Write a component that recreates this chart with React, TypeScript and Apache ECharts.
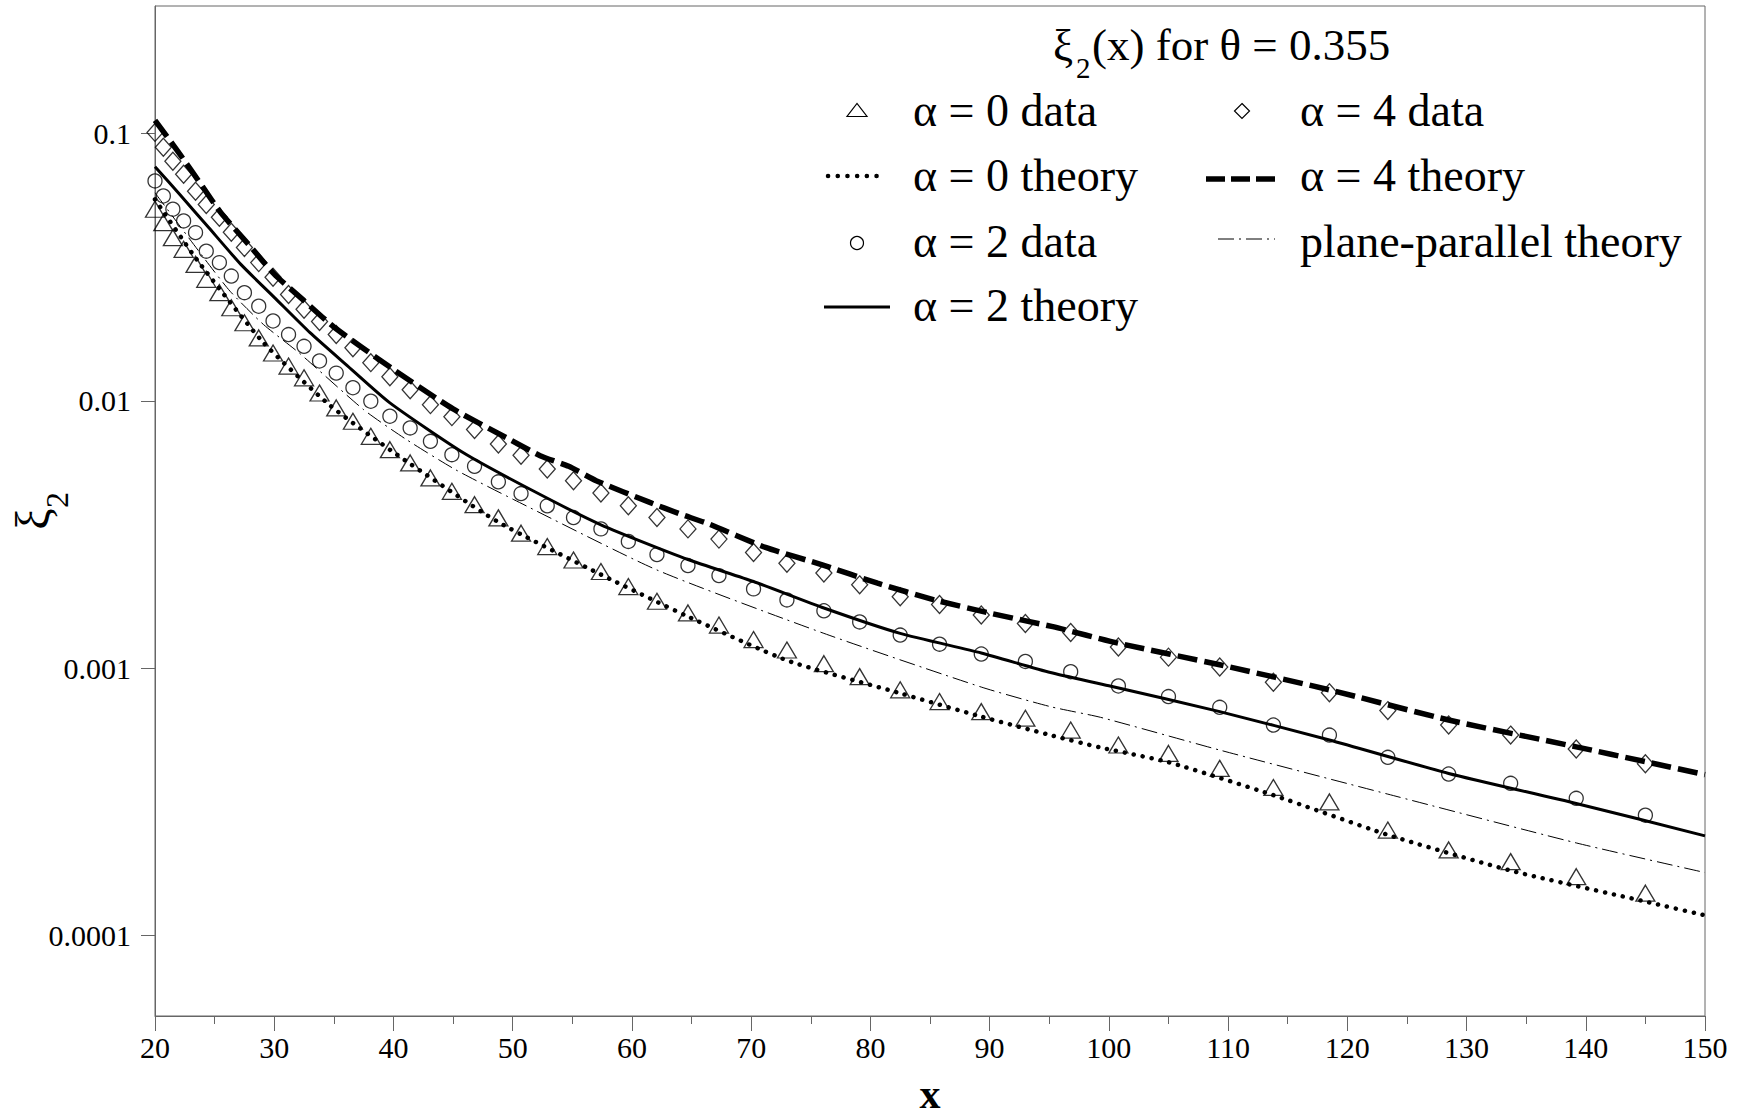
import React, { useEffect, useRef } from 'react';
import * as echarts from 'echarts';

const FONT = '"Liberation Serif", "Times New Roman", serif';

// x positions of the simulation data points
const dataX = [
  20.0, 20.7, 21.5, 22.4, 23.4, 24.3, 25.4, 26.4, 27.5, 28.7,
  29.9, 31.2, 32.5, 33.8, 35.2, 36.6, 38.1, 39.7, 41.4, 43.1,
  44.9, 46.8, 48.8, 50.7, 52.9, 55.1, 57.4, 59.7, 62.1, 64.7,
  67.3, 70.2, 73.0, 76.1, 79.1, 82.5, 85.8, 89.3, 93.0, 96.8,
  100.8, 105.0, 109.3, 113.8, 118.5, 123.4, 128.5, 133.7, 139.2, 145.0,
];

const alpha0Data = [
  0.0521, 0.0464, 0.0408, 0.0369, 0.0324, 0.0285, 0.0254, 0.0223, 0.0196, 0.0172,
  0.0151, 0.0135, 0.0122, 0.0107, 0.00941, 0.00839, 0.00737, 0.00657, 0.00586, 0.00515,
  0.00459, 0.00409, 0.00365, 0.0032, 0.00285, 0.00254, 0.0023, 0.00202, 0.00178, 0.00161,
  0.00145, 0.00128, 0.00117, 0.00104, 0.00093, 0.00083, 0.00075, 0.000688, 0.00065, 0.000587,
  0.000516, 0.00048, 0.000422, 0.000358, 0.000316, 0.000248, 0.000209, 0.000189, 0.000166, 0.000144,
];

const alpha2Data = [
  0.0665, 0.0584, 0.0521, 0.0471, 0.0426, 0.0363, 0.0329, 0.0293, 0.0254, 0.0226,
  0.0199, 0.0177, 0.016, 0.0141, 0.0127, 0.0112, 0.00997, 0.00876, 0.00792, 0.00706,
  0.00629, 0.00569, 0.00498, 0.0045, 0.00405, 0.00366, 0.00332, 0.00298, 0.00266, 0.00242,
  0.00222, 0.00198, 0.0018, 0.00164, 0.00149, 0.00133, 0.00123, 0.00113, 0.00106, 0.00097,
  0.000858, 0.000783, 0.000714, 0.000613, 0.000562, 0.000464, 0.000402, 0.000371, 0.000326, 0.000282,
];

const alpha4Data = [
  0.101, 0.0889, 0.0788, 0.0704, 0.0608, 0.0543, 0.0486, 0.0427, 0.0375, 0.0329,
  0.029, 0.025, 0.022, 0.0198, 0.0177, 0.0158, 0.0139, 0.0123, 0.011, 0.00968,
  0.00873, 0.00781, 0.0069, 0.00626, 0.00556, 0.00503, 0.00452, 0.00405, 0.00366, 0.00332,
  0.00304, 0.00271, 0.00247, 0.00227, 0.00205, 0.00185, 0.00173, 0.00158, 0.00147, 0.00136,
  0.0012, 0.0011, 0.00101, 0.000886, 0.00081, 0.000694, 0.000613, 0.000562, 0.000499, 0.000439,
];

// theory curves
const alpha0TheoryX = [20, 23.5, 29.1, 34.7, 40.3, 48.7, 57.4, 64.7, 73.0, 82.5, 89.3, 95.1, 99.3, 105, 113.8, 123.4, 133.7, 145, 150];
const alpha0TheoryY = [0.0567, 0.0338, 0.0165, 0.0096, 0.00629, 0.00354, 0.00224, 0.00156, 0.00107, 0.000806, 0.000659, 0.000562, 0.000505, 0.000445, 0.000335, 0.000238, 0.000175, 0.000134, 0.000119];

const alpha2TheoryX = [20, 22.1, 24.5, 27.2, 30, 33, 36, 39.7, 45.9, 51.5, 57.4, 64.7, 70.2, 76.1, 82.5, 89.3, 95.1, 100, 109.3, 118.5, 128.5, 139.2, 150];
const alpha2TheoryY = [0.0752, 0.059, 0.0445, 0.0324, 0.0244, 0.018, 0.0137, 0.00983, 0.00638, 0.00466, 0.00344, 0.00255, 0.00211, 0.00168, 0.00135, 0.00114, 0.000963, 0.00086, 0.000688, 0.000539, 0.000404, 0.000312, 0.000236];

const alpha4TheoryX = [20, 21.9, 24, 25.5, 28, 30, 32.5, 35, 40, 45, 49.6, 52.3, 54.7, 57, 61.5, 64, 66.4, 71.2, 75.9, 80.6, 85.4, 90.2, 95.3, 100.8, 109.3, 118.5, 128.5, 139.2, 145, 150];
const alpha4TheoryY = [0.112, 0.086, 0.0632, 0.0507, 0.0378, 0.0298, 0.0237, 0.0189, 0.0131, 0.00933, 0.00723, 0.00624, 0.00569, 0.00503, 0.00417, 0.00378, 0.00347, 0.00283, 0.00244, 0.00208, 0.0018, 0.0016, 0.00143, 0.00124, 0.00103, 0.00083, 0.00064, 0.000508, 0.000447, 0.0004];

const planeTheoryX = [20, 24.2, 26.3, 29.1, 32.1, 37.5, 41.1, 45.2, 50.1, 62.1, 76.1, 89.3, 95.1, 99.3, 109.3, 123.4, 139.2, 150];
const planeTheoryY = [0.06, 0.0338, 0.0257, 0.0193, 0.0151, 0.00927, 0.00716, 0.00553, 0.00427, 0.00233, 0.00135, 0.00085, 0.000718, 0.000655, 0.000494, 0.000338, 0.000222, 0.000172];

const yTicks = [0.0001, 0.001, 0.01, 0.1];
const yTickLabels = ['0.0001', '0.001', '0.01', '0.1'];

const titleParts = ['ξ', '2', '(x) for θ = 0.355'];
const legendLeft = ['α = 0 data', 'α = 0 theory', 'α = 2 data', 'α = 2 theory'];
const legendRight = ['α = 4 data', 'α = 4 theory', 'plane-parallel theory'];

const pairs = (xs: number[], ys: number[]) => xs.map((x, i) => [x, ys[i]]);

const AXIS_COLOR = '#666666';

export default function App() {
  const ref = useRef<HTMLDivElement>(null);
  useEffect(() => {
    document.body.style.margin = '0';
    const chart = echarts.init(ref.current!, null, { renderer: 'svg' });

    const rowY = [110, 175, 241, 305];
    const leftMarkX = 857;
    const leftTextX = 913;
    const rightMarkX = 1242;
    const rightTextX = 1300;
    const LFS = 46;

    const textEl = (text: string, x: number, y: number, size: number) => ({
      type: 'text',
      x,
      y,
      silent: true,
      style: {
        text,
        fontSize: size,
        fontFamily: FONT,
        fill: '#000',
        align: 'left',
        verticalAlign: 'middle',
      },
    });

    const graphic: any[] = [
      // title
      textEl(titleParts[0], 1053, 45, 45),
      textEl(titleParts[1], 1076, 68, 29),
      textEl(titleParts[2], 1092, 45, 45),
      // left legend column
      {
        type: 'polygon',
        silent: true,
        shape: { points: [[leftMarkX - 10, rowY[0] + 6.5], [leftMarkX + 10, rowY[0] + 6.5], [leftMarkX, rowY[0] - 6.5]] },
        style: { fill: 'none', stroke: '#000', lineWidth: 1.2 },
      },
      textEl(legendLeft[0], leftTextX, rowY[0], LFS),
      {
        type: 'line',
        silent: true,
        shape: { x1: 828, y1: rowY[1] + 1, x2: 886, y2: rowY[1] + 1 },
        style: { stroke: '#000', lineWidth: 4.5, lineDash: [0.1, 9.6], lineCap: 'round' },
      },
      textEl(legendLeft[1], leftTextX, rowY[1], LFS),
      {
        type: 'circle',
        silent: true,
        shape: { cx: leftMarkX, cy: rowY[2] + 2, r: 6.5 },
        style: { fill: 'none', stroke: '#000', lineWidth: 1.2 },
      },
      textEl(legendLeft[2], leftTextX, rowY[2], LFS),
      {
        type: 'line',
        silent: true,
        shape: { x1: 824, y1: rowY[3] + 2, x2: 890, y2: rowY[3] + 2 },
        style: { stroke: '#000', lineWidth: 3 },
      },
      textEl(legendLeft[3], leftTextX, rowY[3], LFS),
      // right legend column
      {
        type: 'polygon',
        silent: true,
        shape: { points: [[rightMarkX, rowY[0] - 6.5], [rightMarkX + 7.5, rowY[0] + 1], [rightMarkX, rowY[0] + 8.5], [rightMarkX - 7.5, rowY[0] + 1]] },
        style: { fill: 'none', stroke: '#000', lineWidth: 1.2 },
      },
      textEl(legendRight[0], rightTextX, rowY[0], LFS),
      {
        type: 'line',
        silent: true,
        shape: { x1: 1206, y1: rowY[1] + 4, x2: 1275, y2: rowY[1] + 4 },
        style: { stroke: '#000', lineWidth: 5.5, lineDash: [19, 6] },
      },
      textEl(legendRight[1], rightTextX, rowY[1], LFS),
      {
        type: 'line',
        silent: true,
        shape: { x1: 1218, y1: rowY[2] - 2, x2: 1275, y2: rowY[2] - 2 },
        style: { stroke: '#000', lineWidth: 1, lineDash: [16, 5, 2, 5] },
      },
      textEl(legendRight[2], rightTextX, rowY[2], LFS),
      // y axis name (rotated)
      {
        type: 'text',
        x: 32,
        y: 519,
        rotation: Math.PI / 2,
        silent: true,
        style: { text: 'ξ', fontSize: 48, fontFamily: FONT, fill: '#000', align: 'center', verticalAlign: 'middle' },
      },
      {
        type: 'text',
        x: 57,
        y: 500,
        rotation: Math.PI / 2,
        silent: true,
        style: { text: '2', fontSize: 32, fontFamily: FONT, fill: '#000', align: 'center', verticalAlign: 'middle' },
      },
    ];

    const option: any = {
      animation: false,
      backgroundColor: '#fff',
      grid: {
        left: 155,
        top: 6,
        width: 1550,
        height: 1010,
        containLabel: false,
        outerBoundsMode: 'none',
        show: true,
        borderColor: AXIS_COLOR,
        borderWidth: 1,
        backgroundColor: 'transparent',
      },
      xAxis: {
        type: 'value',
        min: 20,
        max: 150,
        interval: 10,
        name: 'x',
        nameLocation: 'middle',
        nameGap: 57,
        nameTextStyle: { fontFamily: FONT, fontSize: 42, lineHeight: 42, fontWeight: 'bold', color: '#000' },
        axisLine: { show: true, lineStyle: { color: AXIS_COLOR, width: 1 } },
        axisTick: { show: true, inside: false, length: 15, lineStyle: { color: AXIS_COLOR, width: 1 } },
        minorTick: { show: true, splitNumber: 2, length: 8, lineStyle: { color: AXIS_COLOR, width: 1 } },
        axisLabel: { margin: 16, fontFamily: FONT, fontSize: 30, color: '#000' },
        splitLine: { show: false },
        minorSplitLine: { show: false },
      },
      yAxis: {
        type: 'log',
        logBase: 10,
        min: 0.00005,
        max: 0.3,
        axisLine: { show: true, lineStyle: { color: AXIS_COLOR, width: 1 } },
        axisTick: { show: true, inside: false, length: 14, customValues: yTicks, lineStyle: { color: AXIS_COLOR, width: 1 } },
        minorTick: { show: false },
        axisLabel: {
          customValues: yTicks,
          margin: 24,
          fontFamily: FONT,
          fontSize: 30,
          color: '#000',
          formatter: (v: number) => {
            let best = 0;
            for (let i = 1; i < yTicks.length; i++) {
              if (Math.abs(Math.log10(v) - Math.log10(yTicks[i])) < Math.abs(Math.log10(v) - Math.log10(yTicks[best]))) best = i;
            }
            return yTickLabels[best];
          },
        },
        splitLine: { show: false },
      },
      graphic,
      series: [
        {
          name: 'α = 0 data',
          type: 'scatter',
          symbol: 'triangle',
          symbolSize: [19, 16],
          data: pairs(dataX, alpha0Data),
          itemStyle: { color: 'rgba(0,0,0,0)', borderColor: '#000', borderWidth: 1.3 },
          z: 2,
        },
        {
          name: 'α = 2 data',
          type: 'scatter',
          symbol: 'circle',
          symbolSize: 14,
          data: pairs(dataX, alpha2Data),
          itemStyle: { color: 'rgba(0,0,0,0)', borderColor: '#000', borderWidth: 1.3 },
          z: 2,
        },
        {
          name: 'α = 4 data',
          type: 'scatter',
          symbol: 'diamond',
          symbolSize: [16, 18],
          data: pairs(dataX, alpha4Data),
          itemStyle: { color: 'rgba(0,0,0,0)', borderColor: '#000', borderWidth: 1.3 },
          z: 2,
        },
        {
          name: 'plane-parallel theory',
          type: 'line',
          showSymbol: false,
          symbol: 'none',
          smooth: 0.2,
          data: pairs(planeTheoryX, planeTheoryY),
          lineStyle: { color: '#000', width: 1, type: [16, 5, 2, 5] },
          z: 3,
        },
        {
          name: 'α = 0 theory',
          type: 'line',
          showSymbol: false,
          symbol: 'none',
          smooth: 0.2,
          data: pairs(alpha0TheoryX, alpha0TheoryY),
          lineStyle: { color: '#000', width: 4.5, type: [0.1, 9], cap: 'round' },
          z: 3,
        },
        {
          name: 'α = 2 theory',
          type: 'line',
          showSymbol: false,
          symbol: 'none',
          smooth: 0.2,
          data: pairs(alpha2TheoryX, alpha2TheoryY),
          lineStyle: { color: '#000', width: 3 },
          z: 3,
        },
        {
          name: 'α = 4 theory',
          type: 'line',
          showSymbol: false,
          symbol: 'none',
          smooth: 0.2,
          data: pairs(alpha4TheoryX, alpha4TheoryY),
          lineStyle: { color: '#000', width: 5.5, type: [20, 7] },
          z: 3,
        },
      ],
    };

    chart.setOption(option);
    return () => chart.dispose();
  }, []);

  return <div ref={ref} style={{ width: 1742, height: 1119 }} />;
}
